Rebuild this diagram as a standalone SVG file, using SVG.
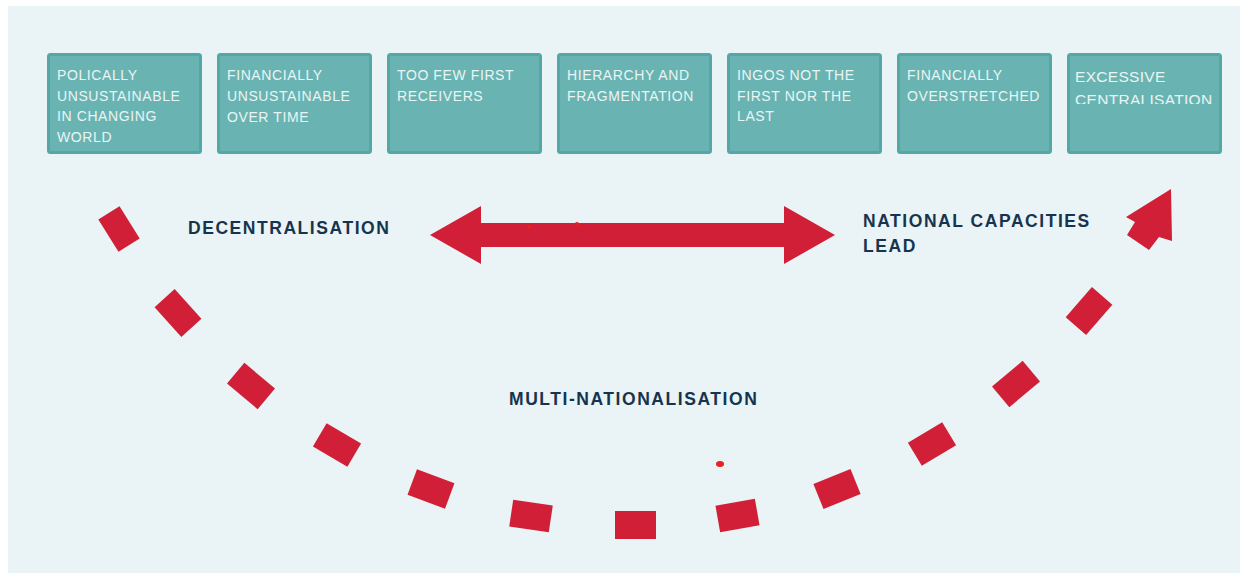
<svg xmlns="http://www.w3.org/2000/svg" width="1248" height="573" viewBox="0 0 1248 573">
<style>
.box{fill:#69b4b2;stroke:#54a7a4;stroke-width:3}
.bt{font-family:"Liberation Sans",Arial,sans-serif;font-size:14px;letter-spacing:0.6px;fill:#e9f5f4}
.lbl{font-family:"Liberation Sans",Arial,sans-serif;font-size:17.5px;font-weight:bold;letter-spacing:1.55px;fill:#17344f}
.red{fill:#d11f37}
.dash{fill:#d11f37}
</style>
<defs>
<clipPath id="clip7"><rect x="1067" y="53" width="155" height="51"/></clipPath>
</defs>
<rect x="0" y="0" width="1248" height="573" fill="#ffffff"/>
<rect x="8" y="6" width="1232" height="567" fill="#eaf3f5"/>

<g id="box1"><rect class="box" x="48.5" y="54.5" width="152" height="98" rx="2"/>
<text class="bt" x="57"><tspan x="57" y="80">POLICALLY</tspan><tspan x="57" y="101">UNSUSTAINABLE</tspan><tspan x="57" y="121">IN CHANGING</tspan><tspan x="57" y="142">WORLD</tspan></text></g>
<g id="box2"><rect class="box" x="218.5" y="54.5" width="152" height="98" rx="2"/>
<text class="bt"><tspan x="227" y="80">FINANCIALLY</tspan><tspan x="227" y="101">UNSUSTAINABLE</tspan><tspan x="227" y="122">OVER TIME</tspan></text></g>
<g id="box3"><rect class="box" x="388.5" y="54.5" width="152" height="98" rx="2"/>
<text class="bt"><tspan x="397" y="80">TOO FEW FIRST</tspan><tspan x="397" y="101">RECEIVERS</tspan></text></g>
<g id="box4"><rect class="box" x="558.5" y="54.5" width="152" height="98" rx="2"/>
<text class="bt"><tspan x="567" y="80">HIERARCHY AND</tspan><tspan x="567" y="101">FRAGMENTATION</tspan></text></g>
<g id="box5"><rect class="box" x="728.5" y="54.5" width="152" height="98" rx="2"/>
<text class="bt"><tspan x="737" y="80">INGOS NOT THE</tspan><tspan x="737" y="101">FIRST NOR THE</tspan><tspan x="737" y="121">LAST</tspan></text></g>
<g id="box6"><rect class="box" x="898.5" y="54.5" width="152" height="98" rx="2"/>
<text class="bt"><tspan x="907" y="80">FINANCIALLY</tspan><tspan x="907" y="101">OVERSTRETCHED</tspan></text></g>
<g id="box7"><rect class="box" x="1068.5" y="54.5" width="152" height="98" rx="2"/>
<text class="bt" style="font-size:15.5px;letter-spacing:0.3px" clip-path="url(#clip7)"><tspan x="1075" y="82">EXCESSIVE</tspan><tspan x="1075" y="104.5">CENTRALISATION</tspan></text></g>

<g id="label-decentralisation"><text class="lbl" x="188" y="234">DECENTRALISATION</text></g>
<g id="label-national"><text class="lbl"><tspan x="863" y="227">NATIONAL CAPACITIES</tspan><tspan x="863" y="252">LEAD</tspan></text></g>
<g id="label-multi"><text class="lbl" x="509" y="405">MULTI-NATIONALISATION</text></g>

<g id="connectors">
<polygon class="red" points="430,235 481,206 481,223 784,223 784,206 835,235 784,264 784,247 481,247 481,264"/>
<circle cx="529" cy="227" r="2" fill="#e8201f"/>
<circle cx="577" cy="224" r="2" fill="#e8201f"/>
<g id="dashed-curve">
<rect class="dash" x="-19" y="-12.5" width="38" height="25" transform="translate(119,229) rotate(58)"/>
<rect class="dash" x="-20" y="-13.5" width="40" height="27" transform="translate(178,313) rotate(48)"/>
<rect class="dash" x="-20" y="-13.5" width="40" height="27" transform="translate(251,386) rotate(40)"/>
<rect class="dash" x="-20" y="-13.5" width="40" height="27" transform="translate(337,445) rotate(30.5)"/>
<rect class="dash" x="-20" y="-13.5" width="40" height="27" transform="translate(431,489) rotate(20.5)"/>
<rect class="dash" x="-20" y="-13.5" width="40" height="27" transform="translate(531,516) rotate(8.5)"/>
<rect class="dash" x="-20.5" y="-14" width="41" height="28" transform="translate(635.5,525)"/>
<rect class="dash" x="-20" y="-13.5" width="40" height="27" transform="translate(737.5,515.5) rotate(-10)"/>
<rect class="dash" x="-20" y="-13.5" width="40" height="27" transform="translate(837,489) rotate(-22)"/>
<rect class="dash" x="-20" y="-13.5" width="40" height="27" transform="translate(932,444) rotate(-31)"/>
<rect class="dash" x="-20" y="-13.5" width="40" height="27" transform="translate(1016,384) rotate(-40)"/>
<rect class="dash" x="-20" y="-13.5" width="40" height="27" transform="translate(1089,311) rotate(-49)"/>
<polygon class="dash" points="1171,189 1172,241 1159,237 1149,250 1127,235 1135,222 1126,217"/>
</g>
<ellipse cx="720" cy="464" rx="4" ry="3" fill="#e8201f"/>
</g>
</svg>
